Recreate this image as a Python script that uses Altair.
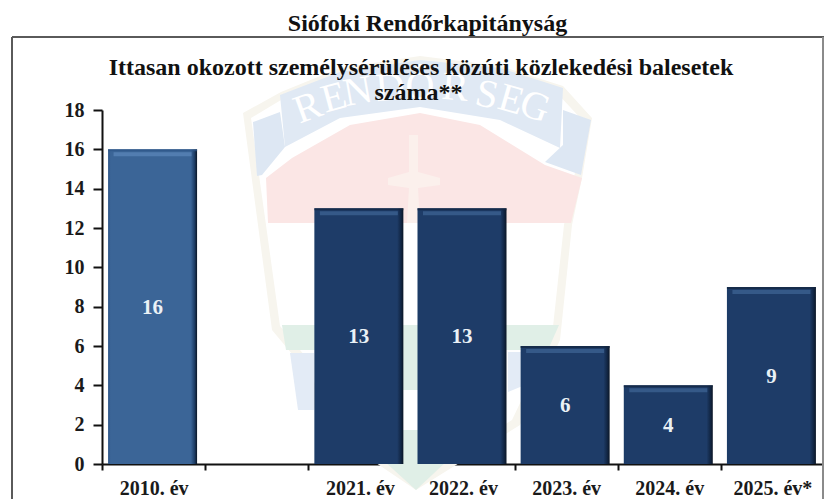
import altair as alt
import pandas as pd

# ---- chart values -------------------------------------------------------
years = ["2010. év", " ", "2021. év", "2022. év", "2023. év", "2024. év", "2025. év*"]
values = [16, None, 13, 13, 6, 4, 9]
y_ticks = [0, 2, 4, 6, 8, 10, 12, 14, 16, 18]
outer_title = "Siófoki Rendőrkapitányság"
inner_title = ["Ittasan okozott személysérüléses közúti közlekedési balesetek", "száma**"]

FONT = "Liberation Serif"
PX0, PY0, W, H = 102, 110, 722, 354   # plot area position on the page
fx = lambda p: p - PX0
fy = lambda p: p - PY0

df = pd.DataFrame({"year": years, "value": values})
base = alt.Chart(df)
one = alt.Chart(df.head(1))

x = alt.X("year:N", sort=years, title=None,
          scale=alt.Scale(domain=years, paddingInner=0, paddingOuter=0),
          axis=alt.Axis(tickBand="extent", labelAngle=0, labelFont=FONT, labelFontWeight="bold",
                        labelFontSize=20, labelColor="#1a1a1a", labelPadding=8, tickSize=6,
                        tickWidth=2, tickColor="#111", domainWidth=2, domainColor="#111", grid=False))
def make_y(field):
    return alt.Y(field, title=None, scale=alt.Scale(domain=[0, 18], nice=False),
          axis=alt.Axis(values=y_ticks, labelFont=FONT, labelFontWeight="bold", labelFontSize=20,
                        labelColor="#1a1a1a", labelPadding=9, tickSize=9, tickWidth=2,
                        tickColor="#111", domainWidth=2, domainColor="#111", grid=False))
y = make_y("value:Q")

# ---- faded badge watermark (decoration behind the bars) -----------------
CX, CY, R = 420, 270, 220
def badge_path(points):
    return "M" + "L".join(f"{(a - CX) / R:.4f},{(b - CY) / R:.4f}" for a, b in points) + "Z"

badge_shapes = [
    # cream outline, then its white inside
    ("#F7F5EE", [(243, 113), (281, 92), (340, 68), (420, 56), (500, 66), (563, 86), (592, 118), (582, 178),
                 (572, 225), (560, 340), (520, 425), (416, 490), (320, 425), (297, 360), (272, 330), (258, 225)]),
    ("#FFFFFF", [(251, 118), (281, 100), (340, 76), (420, 64), (500, 74), (556, 92), (584, 122), (574, 178),
                 (564, 225), (552, 336), (512, 420), (416, 480), (328, 420), (305, 356), (280, 326), (266, 225)]),
    # red field
    ("#FBE6E5", [(266, 178), (292, 158), (350, 125), (420, 113), (480, 125), (545, 165), (582, 178), (571, 223), (268, 223)]),
    # left and right banner folds
    ("#DDE7F3", [(253, 122), (280, 112), (285, 147), (262, 175), (257, 176)]),
    ("#DDE7F3", [(563, 110), (591, 120), (581, 175), (545, 162), (563, 145)]),
    # banner
    ("#E0E9F4", [(280, 95), (340, 72), (420, 60), (500, 68), (563, 88), (560, 148), (500, 120), (420, 107), (340, 118), (285, 147)]),
    # cross
    ("#FBF0EC", [(409, 135), (418, 135), (418, 172), (440, 178), (440, 185), (418, 188), (420, 223), (407, 223), (409, 188), (388, 185), (388, 178), (409, 172)]),
    # green and lower fields
    ("#E0EFE7", [(282, 325), (559, 325), (548, 350), (286, 350)]),
    ("#E0EFE7", [(380, 350), (440, 350), (440, 390), (380, 390)]),
    ("#E3EBF6", [(290, 353), (314, 353), (314, 410), (298, 410)]),
    ("#E3EBF6", [(508, 352), (540, 352), (525, 385), (508, 392)]),
    ("#E0EFE7", [(350, 430), (480, 430), (416, 490)]),
]
badge_letters = [
    ("R", 308, 108, -20), ("E", 334, 98, -15), ("N", 358, 92, -10), ("D", 390, 88, -5),
    ("Ő", 420, 87, 0), ("R", 455, 88, 5), ("S", 487, 95, 12), ("E", 511, 100, 16), ("G", 535, 107, 20),
]
badge_layers = [
    one.mark_point(shape=badge_path(pts), size=(2 * R) ** 2, filled=True, fill=col, opacity=1)
    .encode(x=alt.value(fx(CX)), y=alt.value(fy(CY)))
    for col, pts in badge_shapes
]
badge_layers += [
    one.mark_text(text=ch, font=FONT, fontSize=40, color="#FFFFFF", angle=(a + 360) % 360)
    .encode(x=alt.value(fx(px)), y=alt.value(fy(py)))
    for ch, px, py, a in badge_letters
]

# ---- frame around the chart body ---------------------------------------
FRAME = "#5a5a5a"
frame = [
    base.mark_rule(color=FRAME, strokeWidth=2).encode(x=alt.value(fx(12)), x2=alt.value(fx(824)), y=alt.value(fy(37))),
    base.mark_rule(color=FRAME, strokeWidth=2).encode(x=alt.value(fx(12)), y=alt.value(fy(37)), y2=alt.value(fy(499))),
    base.mark_rule(color="#8a8a8a", strokeWidth=1).encode(x=alt.value(fx(823)), y=alt.value(fy(37)), y2=alt.value(fy(499))),
]

# ---- bars with a bevelled look ------------------------------------------
def side_gradient(edge, main, dark):
    return alt.Gradient(gradient="linear", x1=0, x2=1, y1=0, y2=0, stops=[
        alt.GradientStop(offset=0, color=edge), alt.GradientStop(offset=0.03, color=main),
        alt.GradientStop(offset=0.93, color=main), alt.GradientStop(offset=0.97, color=dark),
        alt.GradientStop(offset=1, color="#0b1626")])

first = alt.datum.year == years[0]
rest = alt.datum.year != years[0]
SHIFT = -1
bars_first = base.transform_filter(first).mark_bar(
    fill=side_gradient("#2f5688", "#3B6597", "#1f3f68"), size=89, xOffset=SHIFT).encode(x=x, y=y)
bars_rest = base.transform_filter(rest).mark_bar(
    fill=side_gradient("#1b3b66", "#1E3C68", "#122746"), size=89, xOffset=SHIFT).encode(x=x, y=y)

edge_first = base.transform_filter(first).mark_tick(
    color="#2d5588", size=89, thickness=2, yOffset=1, xOffset=SHIFT).encode(x=x, y=y)
edge_rest = base.transform_filter(rest).mark_tick(
    color="#12253f", size=89, thickness=2, yOffset=1, xOffset=SHIFT).encode(x=x, y=y)
bevel_first = base.transform_filter(first).mark_tick(
    color="#5D88BB", size=78, thickness=4, yOffset=5, xOffset=SHIFT).encode(x=x, y=y)
bevel_rest = base.transform_filter(rest).mark_tick(
    color="#3F6595", size=78, thickness=4, yOffset=5, xOffset=SHIFT).encode(x=x, y=y)

labels = base.transform_filter("isValid(datum.value)").transform_calculate(mid="datum.value / 2").mark_text(
    font=FONT, fontWeight="bold", fontSize=21, color="#EAF1F6", dy=1, xOffset=SHIFT
).encode(x=x, y=make_y("mid:Q"), text=alt.Text("value:Q", format="d"))

top_title = one.mark_text(
    text=outer_title, font=FONT, fontWeight="bold", fontSize=24, color="#111", align="center", baseline="alphabetic"
).encode(x=alt.value(fx(427.5)), y=alt.value(fy(31)))
title_line1 = one.mark_text(
    text=inner_title[0], font=FONT, fontWeight="bold", fontSize=24, color="#111", align="center", baseline="alphabetic"
).encode(x=alt.value(fx(421)), y=alt.value(fy(75)))
title_line2 = one.mark_text(
    text=inner_title[1], font=FONT, fontWeight="bold", fontSize=24, color="#111", align="center", baseline="alphabetic"
).encode(x=alt.value(fx(418.5)), y=alt.value(fy(100)))

chart = alt.layer(
    *badge_layers, *frame, bars_first, bars_rest, edge_first, edge_rest, bevel_first, bevel_rest, labels,
    top_title, title_line1, title_line2
).properties(
    width=W, height=H, background="#FFFFFF",
    padding={"left": PX0 - 8, "top": PY0 - 8, "right": 0, "bottom": 35},
    autosize=alt.AutoSizeParams(type="none"),
).configure_view(stroke=None)

chart.save("out.html", embed_options={"renderer": "svg", "actions": False})
